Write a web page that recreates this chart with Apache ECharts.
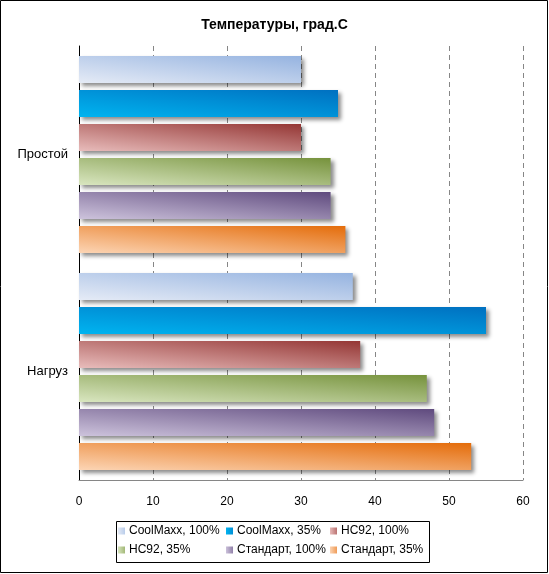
<!DOCTYPE html>
<html>
<head>
<meta charset="utf-8">
<script src="https://cdn.jsdelivr.net/npm/echarts@6/dist/echarts.min.js"></script>
<style>
  html, body { margin: 0; padding: 0; background: #fff; }
  #chart { width: 549px; height: 574px; }
</style>
</head>
<body>
<div id="chart"></div>
<script>
// categories (top to bottom)
var categories = ["Простой", "Нагруз"];
var xTicks = [0, 60, 10]; // min, max, interval

// series values, one per category
var seriesNames = ["CoolMaxx, 100%", "CoolMaxx, 35%", "HC92, 100%", "HC92, 35%", "Стандарт, 100%", "Стандарт, 35%"];
var coolMaxx100 = [30, 37];
var coolMaxx35 = [35, 55];
var hc92_100 = [30, 38];
var hc92_35 = [34, 47];
var standard100 = [34, 48];
var standard35 = [36, 53];
var seriesValues = [coolMaxx100, coolMaxx35, hc92_100, hc92_35, standard100, standard35];

// light / dark colour pairs for the bar gradients
var palette = [
  ["#e5ebf6", "#95b3e0"],
  ["#00b4f0", "#0070c0"],
  ["#e8bcbb", "#943634"],
  ["#d9e6c0", "#76923c"],
  ["#cdc3dc", "#5f4a7e"],
  ["#fcd5b5", "#e46c0a"]
];

var font = "'Liberation Sans', Arial, sans-serif";
var chart = echarts.init(document.getElementById("chart"));

var barH = 27;
var pxPerUnit = 444 / 60;

// diagonal gradient: light bottom-left corner, dark top-right corner
function grad(i, w) {
  var h = barH;
  var x2 = 2 * h * h / (h * h + w * w);
  var y2 = 1 - 2 * w * w / (h * h + w * w);
  return new echarts.graphic.LinearGradient(0, 1, x2, y2, [
    { offset: 0, color: palette[i][0] },
    { offset: 1, color: palette[i][1] }
  ]);
}

var series = seriesNames.map(function (name, i) {
  return {
    name: name,
    type: "bar",
    barWidth: barH,
    barGap: "26%",
    data: seriesValues[i],
    itemStyle: {
      color: function (p) { return grad(i, Math.max(p.value * pxPerUnit, 8)); },
      shadowColor: "rgba(0,0,0,0.45)",
      shadowBlur: 4,
      shadowOffsetX: 3,
      shadowOffsetY: 3
    }
  };
});

var legendCols = [
  [seriesNames[0], seriesNames[3]],
  [seriesNames[1], seriesNames[4]],
  [seriesNames[2], seriesNames[5]]
];
var legendLeft = [118, 226, 330];
var legends = legendCols.map(function (col, i) {
  return {
    orient: "vertical",
    left: legendLeft[i],
    top: 525,
    padding: 0,
    itemWidth: 7,
    itemHeight: 7,
    itemGap: 7,
    icon: "rect",
    data: col.map(function (n) {
      var k = seriesNames.indexOf(n);
      return { name: n, itemStyle: { color: grad(k, 7), shadowBlur: 0, shadowOffsetX: 0, shadowOffsetY: 0 } };
    }),
    textStyle: { fontFamily: font, fontSize: 12, color: "#000", padding: [0, 0, 0, -1] }
  };
});

chart.setOption({
  animation: false,
  title: {
    text: "Температуры, град.С",
    left: "center",
    top: 13,
    textStyle: { fontFamily: font, fontSize: 14, fontWeight: "bold", color: "#000" }
  },
  legend: legends,
  grid: { left: 79, right: 26, top: 46, bottom: 94 },
  xAxis: {
    type: "value",
    min: xTicks[0],
    max: xTicks[1],
    interval: xTicks[2],
    axisLine: { show: true, lineStyle: { color: "#868686", width: 1 } },
    axisTick: { show: false },
    axisLabel: { fontFamily: font, fontSize: 12, color: "#000", margin: 16 },
    splitLine: { show: true, lineStyle: { color: "#868686", type: [5, 4], width: 1 } }
  },
  yAxis: {
    type: "category",
    inverse: true,
    data: categories,
    axisLine: { show: true, lineStyle: { color: "#000", width: 1 } },
    axisTick: { show: false },
    axisLabel: { fontFamily: font, fontSize: 13, color: "#000", margin: 11 }
  },
  graphic: [
    {
      type: "rect",
      shape: { x: 0.5, y: 0.5, width: 547, height: 572 },
      style: { fill: "none", stroke: "#000", lineWidth: 1 }
    },
    {
      type: "rect",
      shape: { x: 116.5, y: 521.5, width: 313, height: 41 },
      style: { fill: "none", stroke: "#000", lineWidth: 1 }
    }
  ],
  series: series
});
</script>
</body>
</html>
